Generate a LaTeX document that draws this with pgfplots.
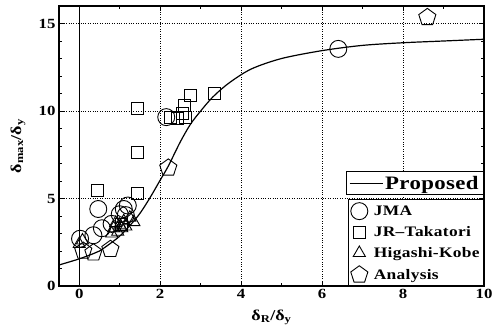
\documentclass[border=0pt]{standalone}
\usepackage{fontspec}
\setmainfont{Liberation Serif}[FakeStretch=1.2]
\usepackage{pgfplots}
\pgfplotsset{compat=1.18}
\begin{document}
\begin{tikzpicture}[x=1pt,y=1pt]
\path[use as bounding box] (-59,-49) rectangle (442,286);
\begin{axis}[
  at={(0,0)}, anchor=south west,
  scale only axis, width=425pt, height=280pt,
  xmin=-0.5, xmax=10, ymin=0, ymax=16,
  xtick={0,2,4,6,8,10}, ytick={0,5,10,15},
  minor x tick num=1, minor y tick num=4,
  tick align=inside, major tick length=5pt, minor tick length=3pt,
  xmajorgrids, ymajorgrids,
  grid style={dotted, black, line width=0.6pt},
  axis line style={line width=1.1pt},
  tick style={black, line width=0.8pt},
  ticklabel style={font=\fontsize{14}{16}\selectfont\bfseries},
  /pgf/number format/assume math mode=true,
  xlabel={δ\textsubscript{R}/δ\textsubscript{y}},
  ylabel={δ\textsubscript{max}/δ\textsubscript{y}},
  every axis x label/.style={at={(rel axis cs:0.5,0)}, yshift=-31pt, anchor=center, font=\fontsize{15}{17}\selectfont\bfseries},
  every axis y label/.style={at={(rel axis cs:0,0.5)}, xshift=-41pt, rotate=90, anchor=center, font=\fontsize{15}{17}\selectfont\bfseries},
  legend style={at={(rel axis cs:1,0)}, anchor=south east, draw=black, line width=0.9pt,
    font=\fontsize{14.5}{16}\selectfont\bfseries\addfontfeature{LetterSpace=2},
    inner xsep=2pt, inner ysep=3pt, row sep=5pt, column sep=4pt,
    nodes={inner xsep=2pt}},
  legend cell align=left,
]
\addplot[black, line width=0.9pt, forget plot] coordinates {(0,0) (0,16)};
\addplot[black, line width=1.2pt, smooth, forget plot] coordinates {
(-0.5,1.2) (0,1.55) (0.35,1.85) (0.5,2.0) (0.75,2.4) (1.0,2.85) (1.25,3.45)
(1.5,4.15) (1.75,5.05) (2.0,6.05) (2.2,6.85) (2.5,8.25) (2.75,9.25) (3.0,10.0)
(3.3,10.8) (3.7,11.6) (4.25,12.4) (5,13.0) (6,13.45) (7,13.75) (8,13.9) (9,14.0) (10,14.1)};
\addplot[only marks, black, line width=0.9pt, mark=o, mark size=8.5pt] coordinates {
(0.02,2.7) (0.35,2.9) (0.56,3.3) (0.8,3.55) (0.47,4.4) (1.0,4.1) (1.1,4.4) (1.2,4.6) (1.15,4.05)
(2.15,9.65) (6.4,13.55)};
\addlegendentry{JMA}
\addplot[only marks, black, line width=0.9pt, mark=square, mark size=6pt] coordinates {
(0.44,5.45) (1.43,5.3) (1.43,7.66) (1.43,10.15) (2.26,9.65) (2.42,9.55) (2.55,9.85)
(2.6,10.3) (2.63,9.65) (2.75,10.87) (3.33,11.0) (1.05,3.5)};
\addlegendentry{JR--Takatori}
\addplot[only marks, black, line width=0.9pt, mark=triangle, mark size=7pt] coordinates {
(0.0,2.4) (0.08,2.6) (0.8,3.0) (0.85,3.3) (0.95,3.1) (1.0,3.5) (1.05,3.3) (1.1,3.7)
(1.15,3.4) (1.25,3.9) (1.35,3.65) (0.9,3.6)};
\addlegendentry{Higashi-Kobe}
\addplot[only marks, black, line width=0.9pt, mark=pentagon, mark size=9pt] coordinates {
(0.1,2.0) (0.35,1.9) (0.77,2.1) (2.2,6.75) (8.6,15.35)};
\addlegendentry{Analysis}
\end{axis}
\begin{axis}[
  at={(0,0)}, anchor=south west,
  scale only axis, width=425pt, height=280pt,
  xmin=-0.5, xmax=10, ymin=0, ymax=16, hide axis,
  legend style={at={(rel axis cs:1,0.325)}, anchor=south east, draw=black, line width=0.9pt,
    font=\fontsize{19}{22}\selectfont\bfseries\addfontfeature{LetterSpace=2}, inner xsep=3pt, inner ysep=2pt},
  legend image code/.code={\draw[#1] (0pt,0pt) -- (33pt,0pt);},
]
\addlegendimage{black, line width=1pt}
\addlegendentry{Proposed}
\end{axis}
\end{tikzpicture}
\end{document}
